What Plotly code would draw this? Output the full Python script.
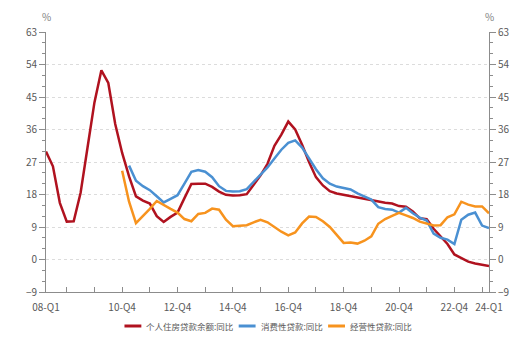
import plotly.graph_objects as go

# Quarterly categories 2008Q1 .. 2024Q1
quarters = [f"{y % 100:02d}-Q{q}" for y in range(2008, 2025) for q in range(1, 5)][:65]

# 个人住房贷款余额:同比 (%), 08-Q1 .. 24-Q1
housing = [29.9, 25.8, 15.7, 10.5, 10.6, 18.5, 31.0, 43.5, 52.4, 48.9,
           37.5, 29.5, 23.0, 17.5, 16.3, 15.5, 12.0, 10.4, 11.8, 13.0,
           17.0, 20.9, 21.0, 21.0, 20.1, 18.8, 17.9, 17.7, 17.8, 18.1,
           20.7, 23.3, 26.5, 31.5, 34.6, 38.2, 36.0, 31.8, 27.0, 22.8,
           20.5, 18.9, 18.3, 17.9, 17.6, 17.2, 16.9, 16.5, 16.0, 15.7,
           15.5, 14.8, 14.6, 13.3, 11.4, 11.2, 8.5, 6.4, 4.3, 1.4,
           0.3, -0.6, -1.1, -1.5, -1.8]

# 消费性贷款:同比 (%), starts 11-Q1
consumer = [None] * 12 + [
    26.0, 21.8, 20.3, 19.2, 17.5, 15.8, 16.8, 17.8, 21.0, 24.3,
    24.8, 24.3, 22.8, 20.3, 19.0, 18.8, 18.9, 19.5, 21.5, 23.5,
    25.5, 28.0, 30.4, 32.3, 33.0, 31.0, 27.8, 25.0, 22.5, 21.0,
    20.2, 19.9, 19.4, 18.3, 17.5, 16.6, 14.5, 14.0, 13.8, 13.0,
    14.3, 12.8, 11.6, 10.8, 7.2, 6.0, 5.5, 4.3, 11.0, 12.4,
    13.0, 9.4, 8.7]

# 经营性贷款:同比 (%), starts 10-Q4
business = [None] * 11 + [
    24.6, 16.0, 10.1, 12.0, 14.0, 16.2, 15.0, 14.0, 13.0, 11.2,
    10.6, 12.6, 12.9, 14.1, 13.8, 11.0, 9.2, 9.3, 9.5, 10.3,
    11.0, 10.3, 9.0, 7.7, 6.7, 7.5, 10.0, 11.9, 11.8, 10.6,
    9.0, 6.8, 4.6, 4.7, 4.4, 5.2, 6.4, 9.9, 11.2, 12.1,
    12.9, 12.2, 11.5, 10.5, 10.0, 9.4, 9.5, 11.7, 12.5, 16.0,
    15.2, 14.7, 14.7, 12.8]

series_names = ["个人住房贷款余额:同比", "消费性贷款:同比", "经营性贷款:同比"]
series_colors = ["#B0121F", "#4A90D2", "#F7931E"]

# x ticks: every Q4 plus first and last quarter; labels every two years
tick_quarters = ["08-Q1"] + [f"{y:02d}-Q4" for y in range(8, 24)] + ["24-Q1"]
labeled = {"08-Q1", "10-Q4", "12-Q4", "14-Q4", "16-Q4", "18-Q4", "20-Q4", "22-Q4", "24-Q1"}
tick_text = [q if q in labeled else "" for q in tick_quarters]

y_ticks = [-9, 0, 9, 18, 27, 36, 45, 54, 63]

FONT = "Noto Sans CJK SC, Noto Sans, sans-serif"
GRAY = "#8C8C8C"
TXT = "#595959"

fig = go.Figure()
for name, vals, color in zip(series_names, [housing, consumer, business], series_colors):
    fig.add_trace(go.Scatter(x=quarters, y=vals, name=name, mode="lines",
                             line=dict(color=color, width=2.5), connectgaps=False,
                             showlegend=False))
# mirror axis on the right
fig.add_trace(go.Scatter(x=quarters, y=housing, yaxis="y2", mode="lines",
                         line=dict(color="rgba(0,0,0,0)", width=0),
                         hoverinfo="skip", showlegend=False))

yaxis_common = dict(
    range=[-9, 63], tickvals=y_ticks, ticks="outside", ticklen=6,
    tickcolor=GRAY, showline=True, linecolor=GRAY, linewidth=1,
    tickfont=dict(family=FONT, size=10, color=TXT), zeroline=False,
    minor=dict(dtick=3, tick0=0, ticks="outside", ticklen=3, tickcolor=GRAY, showgrid=False),
)

fig.update_layout(
    width=522, height=345,
    margin=dict(l=46, r=30, t=32, b=53),
    paper_bgcolor="white", plot_bgcolor="white",
    font=dict(family=FONT, color=TXT),
    xaxis=dict(
        type="category", categoryorder="array", categoryarray=quarters,
        range=[0, 64], tickvals=tick_quarters, ticktext=tick_text,
        ticks="inside", ticklen=5, tickcolor=GRAY, showline=True,
        linecolor=GRAY, linewidth=1, showgrid=False, ticklabelstandoff=6,
        tickfont=dict(family=FONT, size=10, color=TXT), tickangle=0,
    ),
    yaxis=dict(**yaxis_common, showgrid=True, gridcolor="#DCDCDC",
               griddash="dot", gridwidth=1),
    yaxis2=dict(**yaxis_common, overlaying="y", side="right", showgrid=False),
)

# unit labels above both axes
for xp in (0, 1):
    fig.add_annotation(xref="paper", yref="paper", x=xp, y=1, yshift=16,
                       xanchor="center", yanchor="middle",
                       text="%", showarrow=False,
                       font=dict(family=FONT, size=10, color="#7F7F7F"))

# legend drawn as short line swatches with labels
legend_x = [125, 240, 330]
for x0, name, color in zip(legend_x, series_names, series_colors):
    fig.add_shape(type="line", xref="paper", yref="paper",
                  x0=(x0 - 46) / 446, x1=(x0 + 17 - 46) / 446,
                  y0=-(326 - 292) / 260, y1=-(326 - 292) / 260,
                  line=dict(color=color, width=3))
    fig.add_annotation(xref="paper", yref="paper",
                       x=(x0 + 20 - 46) / 446, y=-(326 - 292) / 260,
                       xanchor="left", yanchor="middle", text=name, showarrow=False,
                       font=dict(family=FONT, size=8.5, color=TXT))

fig.write_html("out.html")
